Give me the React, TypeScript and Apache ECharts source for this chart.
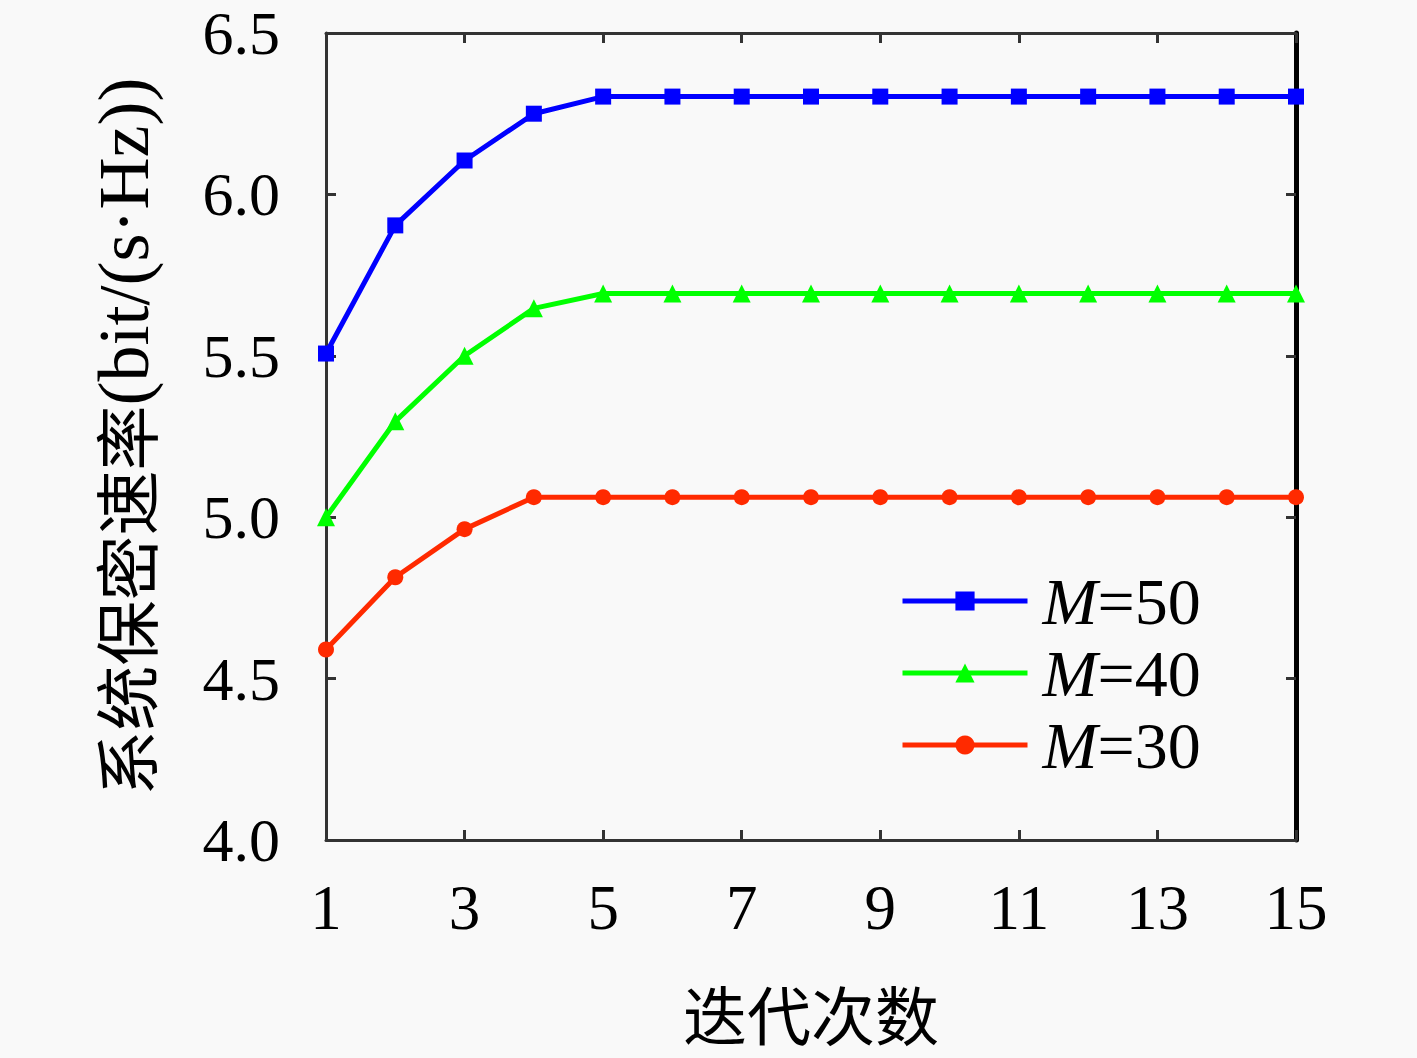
import React, { useEffect, useRef } from "react";
import * as echarts from "echarts";

const categories = ["1","2","3","4","5","6","7","8","9","10","11","12","13","14","15"];
const m50 = [5.507, 5.904, 6.105, 6.25, 6.303, 6.303, 6.303, 6.303, 6.303, 6.303, 6.303, 6.303, 6.303, 6.303, 6.303];
const m40 = [5.0, 5.297, 5.5, 5.647, 5.693, 5.693, 5.693, 5.693, 5.693, 5.693, 5.693, 5.693, 5.693, 5.693, 5.693];
const m30 = [4.59, 4.814, 4.963, 5.062, 5.062, 5.062, 5.062, 5.062, 5.062, 5.062, 5.062, 5.062, 5.062, 5.062, 5.062];
const seriesNames = ["M=50", "M=40", "M=30"];
const yTicks = { min: 4.0, max: 6.5, interval: 0.5 };

const SERIF = "'Liberation Serif', 'DejaVu Serif', serif";
const CJK = "'Noto Sans CJK SC', sans-serif";

export default function App() {
  const ref = useRef<HTMLDivElement>(null);
  useEffect(() => {
    if (!ref.current) return;
    const chart = echarts.init(ref.current, null, { renderer: "svg" });
    const axisLine = { show: true, lineStyle: { color: "#333", width: 3 } };
    const tick = { show: true, inside: true, length: 10, lineStyle: { color: "#333", width: 3 } };
    chart.setOption({
      animation: false,
      backgroundColor: "#f9f9f9",
      grid: { left: 326, right: 121, top: 33, bottom: 218 },
      legend: {
        orient: "vertical",
        left: 895,
        top: 563,
        itemWidth: 125,
        itemHeight: 24,
        itemGap: 6,
        data: seriesNames,
        lineStyle: { width: 5 },
        formatter: (n: string) => n.replace("M", "{i|M}"),
        textStyle: {
          fontFamily: SERIF,
          fontSize: 66,
          lineHeight: 60,
          color: "#000",
          padding: [0, 0, 0, 10],
          rich: {
            i: { fontStyle: "italic", fontFamily: SERIF, fontSize: 66, lineHeight: 60, color: "#000" },
          },
        },
      },
      xAxis: [
        {
          type: "category",
          data: categories,
          boundaryGap: false,
          axisLine,
          axisTick: { ...tick, interval: 1 },
          axisLabel: { interval: 1, fontFamily: SERIF, fontSize: 63, color: "#000", margin: 36 },
          name: "迭代次数",
          nameLocation: "middle",
          nameGap: 140,
          nameTextStyle: { fontFamily: CJK, fontSize: 64, color: "#000" },
          splitLine: { show: false },
        },
        {
          type: "category",
          data: categories,
          boundaryGap: false,
          position: "top",
          axisLine,
          axisTick: { ...tick, interval: 1 },
          axisLabel: { show: false },
          splitLine: { show: false },
        },
      ],
      yAxis: [
        {
          type: "value",
          min: yTicks.min,
          max: yTicks.max,
          interval: yTicks.interval,
          axisLine,
          axisTick: tick,
          axisLabel: {
            fontFamily: SERIF,
            fontSize: 62,
            lineHeight: 56,
            color: "#000",
            margin: 46,
            formatter: (v: number) => v.toFixed(1),
          },
          splitLine: { show: false },
          name: "系统保密速率{s|(bit/(s·Hz))}",
          nameLocation: "middle",
          nameRotate: 90,
          nameGap: 166,
          nameTextStyle: {
            fontFamily: CJK,
            fontSize: 65,
            color: "#000",
            rich: { s: { fontFamily: SERIF, fontSize: 72, color: "#000" } },
          },
        },
        {
          type: "value",
          position: "right",
          min: yTicks.min,
          max: yTicks.max,
          interval: yTicks.interval,
          axisLine: { show: true, lineStyle: { color: "#000", width: 5 } },
          axisTick: tick,
          axisLabel: { show: false },
          splitLine: { show: false },
        },
      ],
      series: [
        {
          name: seriesNames[0],
          type: "line",
          data: m50,
          symbol: "rect",
          symbolSize: 16,
          lineStyle: { color: "#0000ff", width: 5 },
          itemStyle: { color: "#0000ff" },
          z: 3,
        },
        {
          name: seriesNames[1],
          type: "line",
          data: m40,
          symbol: "triangle",
          symbolSize: 18,
          lineStyle: { color: "#00ff00", width: 5 },
          itemStyle: { color: "#00ff00" },
          z: 2,
        },
        {
          name: seriesNames[2],
          type: "line",
          data: m30,
          symbol: "circle",
          symbolSize: 16,
          lineStyle: { color: "#ff2a00", width: 5 },
          itemStyle: { color: "#ff2a00" },
          z: 1,
        },
      ],
    });
    return () => chart.dispose();
  }, []);
  return (
    <div
      ref={ref}
      style={{ position: "fixed", left: 0, top: 0, width: 1417, height: 1058 }}
    />
  );
}
